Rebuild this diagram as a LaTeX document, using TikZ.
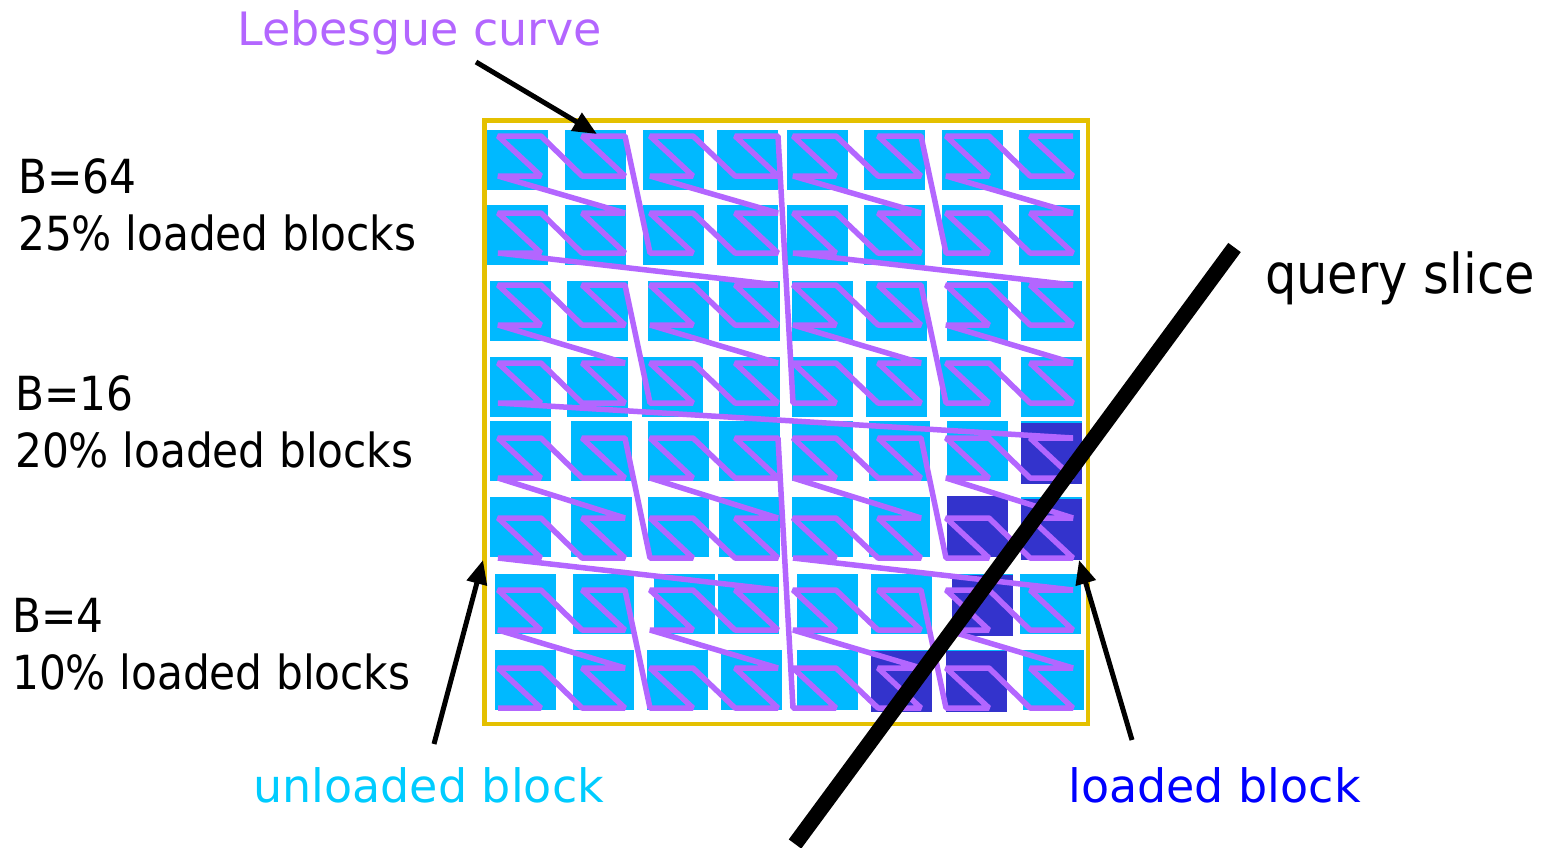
\documentclass[tikz,border=0pt]{standalone}
\usepackage{fontspec}
\setmainfont{DejaVu Sans}
\newfontfamily\condfont{DejaVu Sans Condensed}
\usetikzlibrary{arrows.meta}
\definecolor{cyanb}{RGB}{0,185,255}
\definecolor{darkb}{RGB}{51,51,204}
\definecolor{curvec}{RGB}{179,102,255}
\definecolor{borderc}{RGB}{228,192,0}
\definecolor{unlc}{RGB}{0,204,255}
\definecolor{ldc}{RGB}{0,0,255}
\tikzset{
  lbl/.style={inner sep=0pt, anchor=base west, font=\fontsize{46}{55}\selectfont},
  sidelbl/.style={inner sep=0pt, anchor=base west, font=\condfont\fontsize{47}{56}\selectfont},
  curve/.style={draw=curvec, line width=5.5pt, line join=bevel},
  pointer/.style={draw=black, line width=5pt, -{Triangle[length=24pt,width=20pt]}},
  blk/.style={fill=cyanb},
  dblk/.style={fill=darkb}
}
\begin{document}
\begin{tikzpicture}[x=1pt,y=-1pt]
\useasboundingbox (0,0) rectangle (1546,847);
% blocks
\foreach \x in {487,565,643,717,787,864,942,1019} \fill[blk] (\x,130) rectangle ++(61,60);
\foreach \x in {487,565,643,717,787,864,942,1019} \fill[blk] (\x,205) rectangle ++(61,60);
\foreach \x in {490,567,648,719,792,866,947,1021} \fill[blk] (\x,281) rectangle ++(61,60);
\foreach \x in {490,567,642,719,792,866,940,1021} \fill[blk] (\x,357) rectangle ++(61,60);
\foreach \x in {490,571,648,719,792,869,947,1021} \fill[blk] (\x,421) rectangle ++(61,60);
\foreach \x in {490,571,648,719,792,869,947,1021} \fill[blk] (\x,497) rectangle ++(61,60);
\foreach \x in {495,573,654,718,797,871,952,1020} \fill[blk] (\x,574) rectangle ++(61,60);
\foreach \x in {495,573,647,721,797,871,946,1023} \fill[blk] (\x,650) rectangle ++(61,60);
% loaded blocks
\fill[dblk] (1021,423) rectangle ++(61,61);
\fill[dblk] (947,496) rectangle ++(61,61);
\fill[dblk] (1021,499) rectangle ++(61,61);
\fill[dblk] (952,575) rectangle ++(61,61);
\fill[dblk] (871,651) rectangle ++(61,61);
\fill[dblk] (946,651) rectangle ++(61,61);
% Lebesgue (Z-order) curve points
\foreach \k in {0,...,255}{
  \pgfmathtruncatemacro\ix{mod(\k,2)+2*mod(floor(\k/4),2)+4*mod(floor(\k/16),2)+8*mod(floor(\k/64),2)}
  \pgfmathtruncatemacro\iy{15-(mod(floor(\k/2),2)+2*mod(floor(\k/8),2)+4*mod(floor(\k/32),2)+8*mod(floor(\k/128),2))}
  \pgfmathtruncatemacro\cb{floor(\ix/2)}
  \pgfmathtruncatemacro\rb{floor(\iy/2)}
  \pgfmathsetmacro\px{{498,582,650,735,793,878,946,1030}[\cb]+43*mod(\ix,2)}
  \pgfmathsetmacro\py{{136,213,285,363,438,518,590,668}[\rb]+40*mod(\iy,2)}
  \coordinate (z\k) at (\px,\py);
}
\draw[curve] (z0) \foreach \k in {1,...,255}{ -- (z\k) };
% border
\draw[borderc, line width=4.3pt] (484.5,120.5) rectangle (1088,724);
% query slice
\coordinate (qa) at (1234.5,247.5);
\coordinate (qb) at (795,844);
\draw[line width=15.5pt] (qa) -- (qb);
% labels
\node[lbl, text=curvec] (leb) at (237,45) {Lebesgue curve};
\node[sidelbl] (b64) at (18,193) {B=64};
\node[sidelbl] (p25) at (18,250) {25\% loaded blocks};
\node[sidelbl] (b16) at (15,410) {B=16};
\node[sidelbl] (p20) at (15,467) {20\% loaded blocks};
\node[sidelbl] (b4) at (12,632) {B=4};
\node[sidelbl] (p10) at (12,689) {10\% loaded blocks};
\node[inner sep=0pt, anchor=base west, font=\condfont\fontsize{55}{60}\selectfont] (qs) at (1265,293) {query slice};
\node[lbl, text=unlc] (unl) at (253,802) {unloaded block};
\node[lbl, text=ldc] (ld) at (1068,802) {loaded block};
% pointers
\coordinate (la) at (476,62);
\coordinate (lb) at (597,134);
\draw[pointer] (la) -- (lb);
\coordinate (ua) at (434,744);
\coordinate (ub) at (483,560);
\draw[pointer] (ua) -- (ub);
\coordinate (da) at (1132,740);
\coordinate (db) at (1079,560);
\draw[pointer] (da) -- (db);
\end{tikzpicture}
\end{document}
